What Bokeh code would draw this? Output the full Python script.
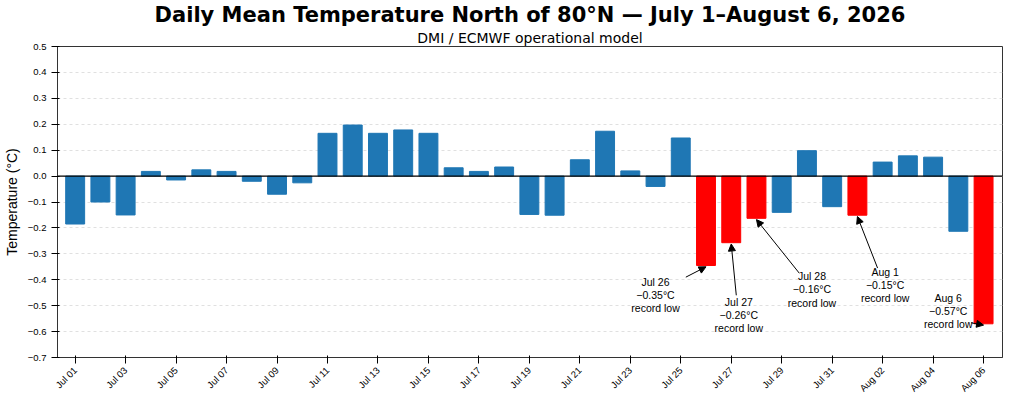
from bokeh.plotting import figure
from bokeh.models import Span, Arrow, NormalHead, Title, FixedTicker, ColumnDataSource
from bokeh.embed import file_html
from bokeh.resources import INLINE

dates = ["Jul 01","Jul 02","Jul 03","Jul 04","Jul 05","Jul 06","Jul 07","Jul 08","Jul 09","Jul 10",
         "Jul 11","Jul 12","Jul 13","Jul 14","Jul 15","Jul 16","Jul 17","Jul 18","Jul 19","Jul 20",
         "Jul 21","Jul 22","Jul 23","Jul 24","Jul 25","Jul 26","Jul 27","Jul 28","Jul 29","Jul 30",
         "Jul 31","Aug 01","Aug 02","Aug 03","Aug 04","Aug 05","Aug 06"]
temps = [-0.185,-0.10,-0.15,0.018,-0.015,0.024,0.018,-0.02,-0.07,-0.026,
         0.165,0.197,0.165,0.178,0.165,0.032,0.018,0.035,-0.148,-0.151,
         0.063,0.173,0.02,-0.04,0.147,-0.345,-0.257,-0.163,-0.14,0.098,
         -0.118,-0.151,0.054,0.078,0.073,-0.213,-0.57]
record_days = ["Jul 26","Jul 27","Jul 28","Aug 01","Aug 06"]
record_labels = ["Jul 26\n\u22120.35°C\nrecord low","Jul 27\n\u22120.26°C\nrecord low",
                 "Jul 28\n\u22120.16°C\nrecord low","Aug 1\n\u22120.15°C\nrecord low",
                 "Aug 6\n\u22120.57°C\nrecord low"]
label_x = [23.0, 26.3, 29.2, 32.1, 34.6]
label_y = [-0.46, -0.537, -0.437, -0.42, -0.52]
tail_x = [24.2, 26.2, 28.7, 31.8, 35.5]
tail_y = [-0.39, -0.46, -0.375, -0.355, -0.566]
yticks = [-0.7,-0.6,-0.5,-0.4,-0.3,-0.2,-0.1,0.0,0.1,0.2,0.3,0.4,0.5]

xs = list(range(len(dates)))
colors = ["#ff0000" if d in record_days else "#1f77b4" for d in dates]
src = ColumnDataSource(dict(x=xs, top=temps, color=colors))

p = figure(width=1008, height=400, x_range=(-0.7, 36.75), y_range=(-0.7, 0.5),
           output_backend="svg", toolbar_location=None, min_border_left=45,
           min_border_right=6, min_border_top=0, min_border_bottom=0)
p.add_layout(Title(text="DMI / ECMWF operational model", align="center", standoff=2,
                   text_font_size="14px", text_font_style="normal", text_font="DejaVu Sans",
                   text_color="black"), "above")
p.add_layout(Title(text="Daily Mean Temperature North of 80°N — July 1–August 6, 2026", align="center",
                   standoff=0, text_font_size="21px", text_font_style="bold", text_font="DejaVu Sans",
                   text_color="black"), "above")

p.vbar(x="x", top="top", bottom=0, width=0.75, color="color", source=src)
p.add_layout(Span(location=0, dimension="width", line_color="black", line_width=1.2))

for i, d in enumerate(record_days):
    xi = dates.index(d)
    p.add_layout(Arrow(end=NormalHead(size=7, fill_color="black", line_color="black"),
                       x_start=tail_x[i], y_start=tail_y[i], x_end=xi, y_end=temps[xi] - 0.005,
                       line_color="black", line_width=1))
p.text(x=label_x, y=label_y, text=record_labels, text_align="center", text_baseline="middle",
       text_font_size="10.5px", text_color="black", text_line_height=1.1)

p.xaxis.ticker = FixedTicker(ticks=xs[::2])
p.xaxis.major_label_overrides = {i: dates[i] for i in xs[::2]}
p.xaxis.major_label_orientation = 0.785
p.yaxis.ticker = FixedTicker(ticks=yticks)
p.yaxis.major_label_overrides = {t: (f"{t:.1f}".replace("-", "\u2212") if abs(t) > 1e-9 else "0.0") for t in yticks}
p.yaxis.axis_label = "Temperature (°C)"
p.yaxis.axis_label_text_font_size = "14px"
p.yaxis.axis_label_text_font_style = "normal"
p.yaxis.axis_label_text_color = "black"
for ax in (p.xaxis, p.yaxis):
    ax.minor_tick_line_color = None
    ax.axis_line_color = "#333333"
    ax.major_label_text_color = "black"
    ax.major_label_text_font_size = "9.5px"
p.xgrid.grid_line_color = None
p.ygrid.grid_line_color = "#e0e0e0"
p.ygrid.grid_line_dash = "3 3"
p.outline_line_color = "#333333"

open("out.html", "w").write(file_html(p, INLINE))
